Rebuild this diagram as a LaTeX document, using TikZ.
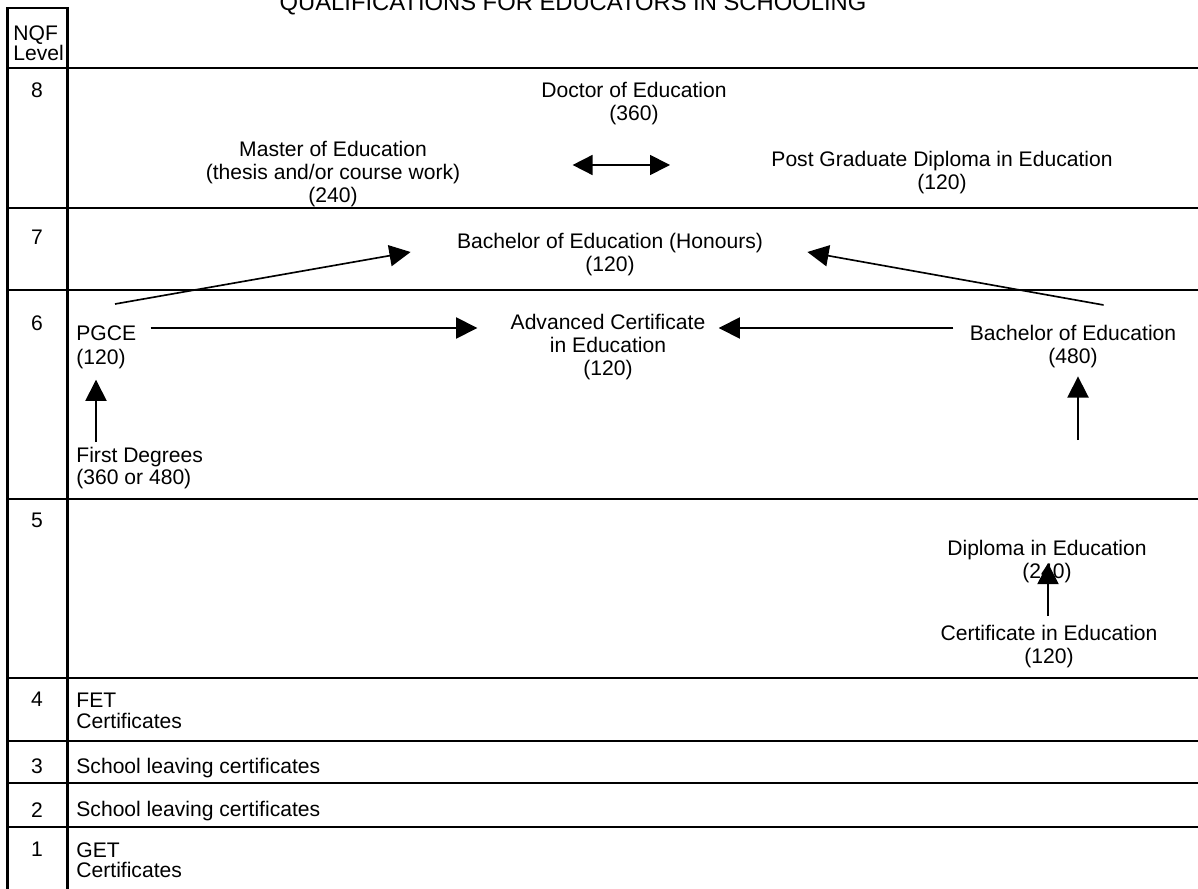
\documentclass[tikz,border=0pt]{standalone}
\usepackage{fontspec}
\setmainfont{Liberation Sans}
\usetikzlibrary{arrows.meta, calc}

\begin{document}
\begin{tikzpicture}[
    x=0.017cm, y=-0.017cm,
    every node/.style={inner sep=0pt, font=\fontsize{10.2pt}{11.1pt}\selectfont},
    qual/.style={anchor=north, align=center},
    entry/.style={anchor=north west, align=left},
    tight/.style={font=\fontsize{10.2pt}{9.8pt}\selectfont},
    lvnum/.style={anchor=north},
    tblline/.style={line width=1pt},
    arr/.style={-{Triangle[length=0.36cm, width=0.36cm]}, line width=0.8pt},
    dblarr/.style={{Triangle[length=0.34cm, width=0.34cm]}-{Triangle[length=0.34cm, width=0.34cm]}, line width=0.8pt}
]
    \useasboundingbox (0,0) rectangle (1198,889);
    \clip (0,0) rectangle (1198,889);

    \node[anchor=base, font=\fontsize{11.5pt}{13pt}\selectfont] (title) at (573,10.5) {QUALIFICATIONS FOR EDUCATORS IN SCHOOLING};

    % table frame
    \draw[tblline] (7.5,889) -- (7.5,8) -- (67.5,8) -- (67.5,889);
    \foreach \y in {68,208,290,499,678,741,783,827}
        \draw[tblline] (7.5,\y) -- (1198,\y);

    \node[entry, tight] (nqf) at (13,25) {NQF\\Level};
    \foreach \lv/\y in {8/82,7/230,6/315,5/513,4/692,3/758,2/802,1/842}
        \node[lvnum] (lv\lv) at (37,\y) {\lv};

    % level 8
    \node[qual] (doc) at (634,82) {Doctor of Education\\(360)};
    \node[qual] (med) at (333,141) {Master of Education\\(thesis and/or course work)\\(240)};
    \node[qual] (pgde) at (942,151) {Post Graduate Diploma in Education\\(120)};
    % level 7
    \node[qual] (bedh) at (610,233) {Bachelor of Education (Honours)\\(120)};
    % level 6
    \node[entry, font=\fontsize{10.2pt}{12pt}\selectfont] (pgce) at (76,325) {PGCE\\(120)};
    \node[qual] (ace) at (608,314) {Advanced Certificate\\in Education\\(120)};
    \node[qual] (bed) at (1073,325) {Bachelor of Education\\(480)};
    \node[entry, font=\fontsize{10.2pt}{10.6pt}\selectfont] (fdeg) at (76,447) {First Degrees\\(360 or 480)};
    % level 5
    \node[qual] (dip) at (1047,540) {Diploma in Education\\(240)};
    \node[qual] (cert) at (1049,625) {Certificate in Education\\(120)};
    % levels 4 to 1
    \node[entry, tight] (fet) at (76,693) {FET\\Certificates};
    \node[entry] (slc3) at (76,758) {School leaving certificates};
    \node[entry] (slc2) at (76,801) {School leaving certificates};
    \node[entry, tight] (get) at (76,842) {GET\\Certificates};

    % progression arrows
    \draw[dblarr] ($(med.north east)+(112,24)$) -- ($(pgde.north west)+(-101,14)$);
    \draw[arr] ($(pgce.north west)+(39,-21)$) -- ($(bedh.north west)+(-46,19)$);
    \draw[arr] ($(bed.north east)+(-73,-20)$) -- ($(bedh.north east)+(44,19)$);
    \draw[arr] ($(pgce.north east)+(14,3)$) -- ($(ace.north west)+(-33,14)$);
    \draw[arr] ($(bed.north west)+(-16,3)$) -- ($(ace.north east)+(13,14)$);
    \draw[arr] ($(fdeg.north west)+(20,-5)$) -- ($(pgce.south west)+(20,10)$);
    \coordinate (bedfeed) at (1078,440);
    \draw[arr] (bedfeed) -- ($(bed.south)+(5,8)$);
    \draw[arr] ($(cert.north)+(-1,-9)$) -- ($(dip.north)+(1,23)$);
\end{tikzpicture}
\end{document}
